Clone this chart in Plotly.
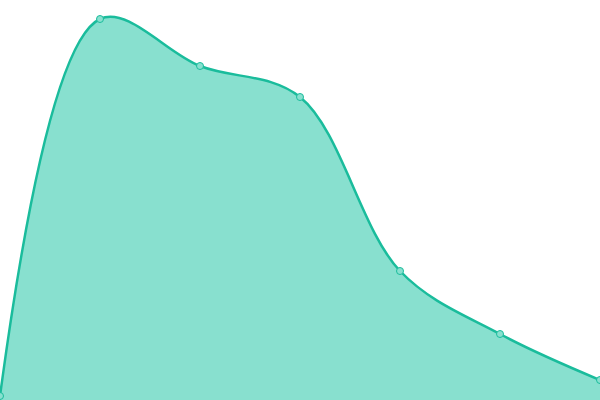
import plotly.graph_objects as go

x_values = [0, 1, 2, 3, 4, 5, 6]
y_values = [4, 381, 334, 303, 129, 66, 20]

fig = go.Figure()
fig.add_trace(go.Scatter(
    x=x_values, y=y_values,
    mode="lines+markers",
    line=dict(shape="spline", smoothing=1, color="#1abc9c", width=2.5),
    fill="tozeroy",
    fillcolor="#88e0cf",
    marker=dict(size=7, color="#88e0cf", line=dict(color="#1abc9c", width=1)),
    cliponaxis=False,
    hoverinfo="skip",
))
fig.update_layout(
    width=600, height=400,
    margin=dict(l=0, r=0, t=0, b=0),
    paper_bgcolor="white", plot_bgcolor="white",
    showlegend=False,
    xaxis=dict(range=[0, 6], visible=False, fixedrange=True),
    yaxis=dict(range=[0, 400], visible=False, fixedrange=True),
)
fig.write_html(
    "out.html",
    config={"displayModeBar": False},
    post_script="document.body.style.margin='0';document.body.style.overflow='hidden';",
)
